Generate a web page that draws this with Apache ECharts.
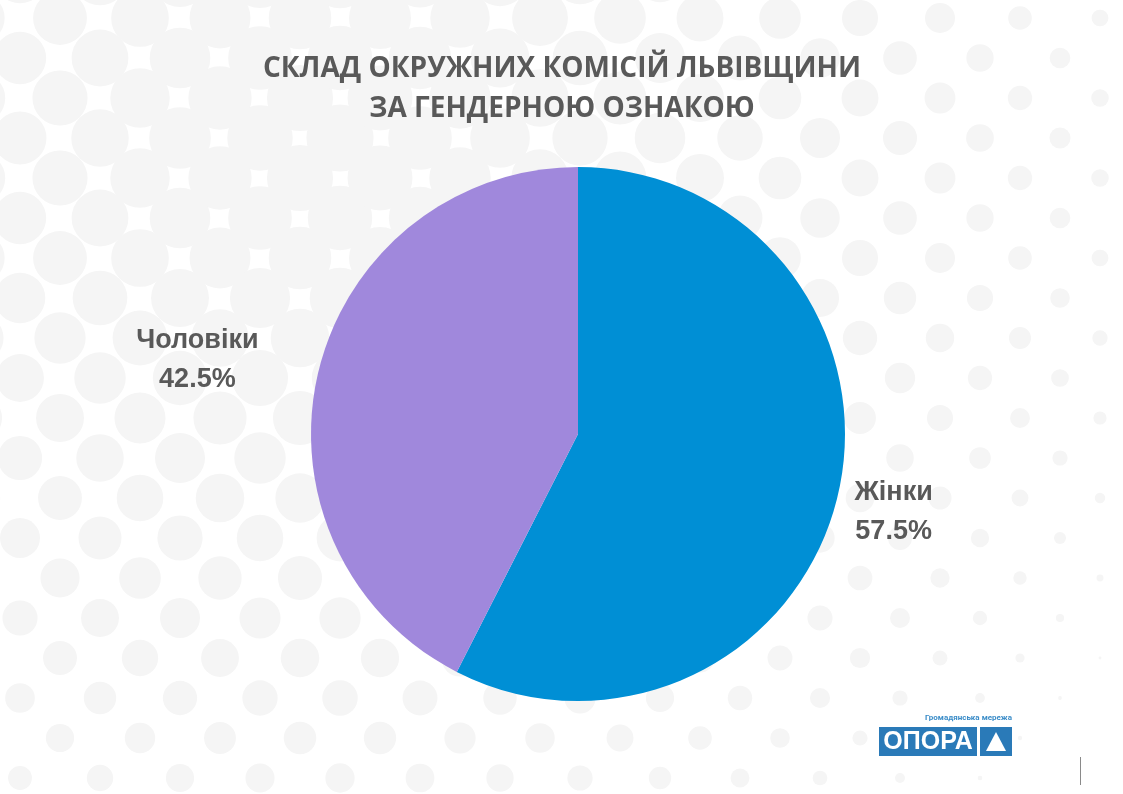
<!DOCTYPE html>
<html><head><meta charset="utf-8">
<script src="https://cdn.jsdelivr.net/npm/echarts@6/dist/echarts.min.js"></script>
<style>
html,body{margin:0;padding:0;background:#fff;overflow:hidden;}
#bg{position:absolute;left:0;top:0;}
#chart{position:absolute;left:0;top:0;width:1123px;height:794px;}
</style>
</head><body>
<canvas id="bg" width="1123" height="794"></canvas>
<div id="chart"></div>
<script>
// ---- data ----
const titleLines = ['СКЛАД ОКРУЖНИХ КОМІСІЙ ЛЬВІВЩИНИ', 'ЗА ГЕНДЕРНОЮ ОЗНАКОЮ'];
const categories = ['Жінки', 'Чоловіки'];
const shares = [57.5, 42.5];
const sliceColors = ['#008fd5', '#a088dc'];
const logoCaption = 'Громадянська мережа';
const logoName = 'ОПОРА';

// ---- decorative halftone background ----
(function () {
  const ctx = document.getElementById('bg').getContext('2d');
  ctx.fillStyle = '#f5f5f5';
  for (let i = -1; i <= 29; i++) {
    for (let j = -1; j <= 21; j++) {
      if (((i + j) % 2 + 2) % 2 !== 1) continue;
      const x = 20 + 40 * i, y = 18 + 40 * j;
      const d = Math.hypot(x - 320, y - 138);
      const r = 34 - 0.0204 * d - 1.53e-5 * d * d;
      if (r > 0.6) { ctx.beginPath(); ctx.arc(x, y, r, 0, Math.PI * 2); ctx.fill(); }
    }
  }
})();

// label centre offsets from the slice edge point (px)
const labelShift = [[56, 16], [-121, -12]];

const chart = echarts.init(document.getElementById('chart'), null, {renderer: 'canvas'});
chart.setOption({
  backgroundColor: 'transparent',
  animation: false,
  title: {
    text: titleLines.join('\n'),
    left: 557,
    top: 44,
    textAlign: 'center',
    textStyle: {
      fontFamily: 'Open Sans', fontWeight: 'bold', fontSize: 28,
      color: '#595959', lineHeight: 40
    }
  },
  series: [{
    type: 'pie',
    center: [578, 434],
    radius: 267,
    startAngle: 90,
    clockwise: true,
    silent: true,
    color: sliceColors,
    data: categories.map((c, i) => ({name: c, value: shares[i]})),
    label: {
      show: true,
      position: 'outside',
      formatter: '{b}\n{d}%',
      fontFamily: 'Liberation Sans',
      fontWeight: 'bold',
      fontSize: 27,
      lineHeight: 39,
      color: '#595959'
    },
    labelLine: {show: true, length: 10, length2: 0, lineStyle: {opacity: 0}},
    labelLayout: function (p) {
      const e = p.labelLinePoints[0];
      const s = labelShift[p.dataIndex];
      return {x: e[0] + s[0], y: e[1] + s[1], align: 'center', verticalAlign: 'middle'};
    }
  }],
  graphic: [
    {type: 'text', right: 1123 - 1012, top: 714,
     style: {text: logoCaption, font: 'bold 8px Roboto', fill: '#3a8cc8', align: 'right'}},
    {type: 'rect', shape: {x: 879, y: 727, width: 98, height: 29}, style: {fill: '#2a7ab8'}},
    {type: 'text', x: 928, y: 742,
     style: {text: logoName, font: 'bold 25px Liberation Sans', fill: '#fff', align: 'center', verticalAlign: 'middle'}},
    {type: 'rect', shape: {x: 980, y: 727, width: 32, height: 29}, style: {fill: '#2a7ab8'}},
    {type: 'polygon', shape: {points: [[996, 732], [1006, 751], [986, 751]]}, style: {fill: '#fff'}},
    {type: 'line', shape: {x1: 1080.5, y1: 757, x2: 1080.5, y2: 785}, style: {stroke: '#8a8a8a', lineWidth: 1}}
  ]
});
</script>
</body></html>
